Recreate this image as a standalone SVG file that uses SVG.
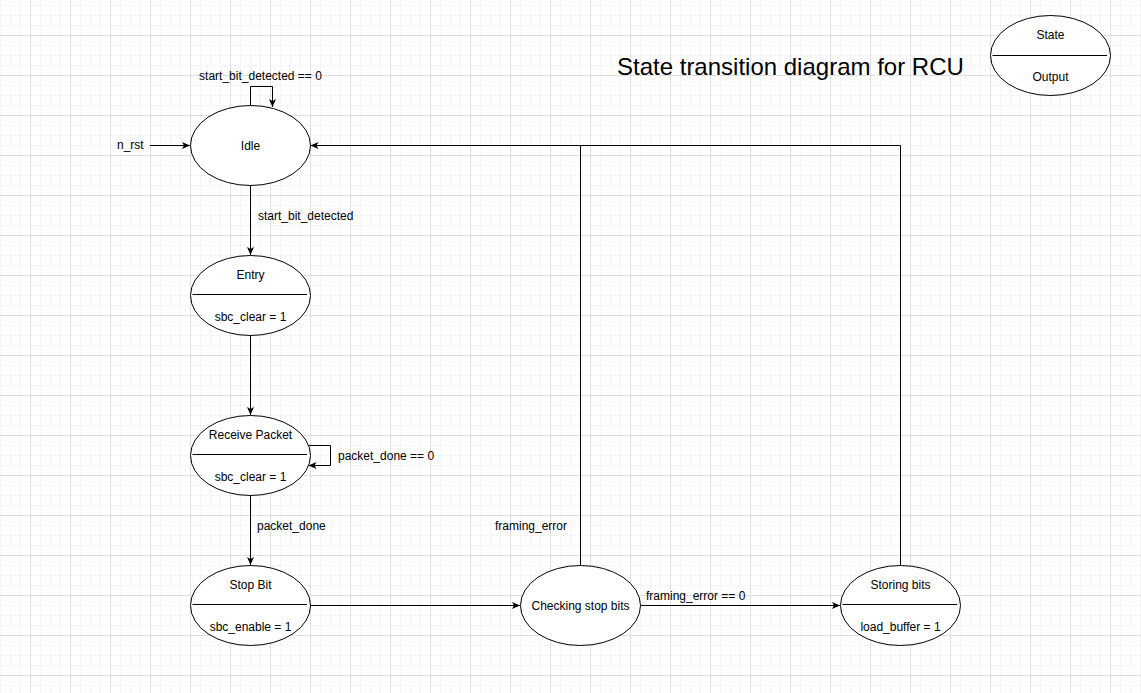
<svg xmlns="http://www.w3.org/2000/svg" width="1141" height="693" viewBox="0 0 1141 693">
<defs>
<pattern id="minor" patternUnits="userSpaceOnUse" x="0" y="5" width="10" height="10">
<path d="M0.5,0 V10 M0,0.5 H10" stroke="#f5f5f5" stroke-width="1" fill="none"/>
</pattern>
<pattern id="major" patternUnits="userSpaceOnUse" x="30" y="35" width="40" height="40">
<path d="M0.5,0 V40 M0,0.5 H40" stroke="#e0e0e0" stroke-width="1" fill="none"/>
</pattern>
<marker id="arr" viewBox="0 0 8 7" refX="8" refY="3.5" markerWidth="8" markerHeight="7" markerUnits="userSpaceOnUse" orient="auto">
<path d="M0,0 L8,3.5 L0,7 L2,3.5 Z" fill="#000"/>
</marker>
</defs>
<style>
.t{font-family:"Liberation Sans",Arial,sans-serif;font-size:12px;fill:#000}
.m{text-anchor:middle}
.st{fill:#fff;stroke:#000;stroke-width:1}
.dv{stroke:#000;stroke-width:1}
.c{fill:none;stroke:#000;stroke-width:1}
.a{marker-end:url(#arr)}
</style>
<rect width="1141" height="693" fill="#fff"/>
<rect width="1141" height="693" fill="url(#minor)"/>
<rect width="1141" height="693" fill="url(#major)"/>

<text class="t" x="617" y="75" style="font-size:24px">State transition diagram for RCU</text>

<g id="legend">
<ellipse class="st" cx="1050.5" cy="55.5" rx="60" ry="40"/>
<line class="dv" x1="992.5" y1="55.5" x2="1107" y2="55.5"/>
<text class="t m" x="1050.5" y="39">State</text>
<text class="t m" x="1050.5" y="81">Output</text>
</g>

<g id="connectors">
<path class="c a" d="M150,145.5 H190"/>
<path class="c a" d="M250.5,105 V86.5 H272.5 V107"/>
<path class="c a" d="M250.5,185 V255"/>
<path class="c a" d="M250.5,335 V415"/>
<path class="c a" d="M308.5,445.5 H330.5 V465.5 H308.5"/>
<path class="c a" d="M250.5,495 V565"/>
<path class="c a" d="M310.5,605.5 H520"/>
<path class="c a" d="M640.5,605.5 H840"/>
<path class="c a" d="M580.5,565 V145.5 H310.5"/>
<path class="c" d="M900.5,565 V145.5 H580.5"/>
<text class="t" x="117" y="149">n_rst</text>
<text class="t m" x="260.5" y="80">start_bit_detected == 0</text>
<text class="t" x="258" y="219.5">start_bit_detected</text>
<text class="t" x="338" y="459.5">packet_done == 0</text>
<text class="t" x="257" y="530">packet_done</text>
<text class="t" x="495" y="530">framing_error</text>
<text class="t" x="646" y="600">framing_error == 0</text>
</g>

<g id="idle">
<ellipse class="st" cx="250.5" cy="145.5" rx="60" ry="40"/>
<text class="t m" x="250.5" y="149.5">Idle</text>
</g>

<g id="entry">
<ellipse class="st" cx="250.5" cy="295.5" rx="60" ry="40"/>
<line class="dv" x1="192.5" y1="294.5" x2="307" y2="294.5"/>
<text class="t m" x="250.5" y="279">Entry</text>
<text class="t m" x="250.5" y="321">sbc_clear = 1</text>
</g>

<g id="receive-packet">
<ellipse class="st" cx="250.5" cy="455.5" rx="60" ry="40"/>
<line class="dv" x1="192.5" y1="454.5" x2="307" y2="454.5"/>
<text class="t m" x="250.5" y="439">Receive Packet</text>
<text class="t m" x="250.5" y="481">sbc_clear = 1</text>
</g>

<g id="stop-bit">
<ellipse class="st" cx="250.5" cy="605.5" rx="60" ry="40"/>
<line class="dv" x1="192.5" y1="604.5" x2="307" y2="604.5"/>
<text class="t m" x="250.5" y="589">Stop Bit</text>
<text class="t m" x="250.5" y="631">sbc_enable = 1</text>
</g>

<g id="checking-stop-bits">
<ellipse class="st" cx="580.5" cy="605.5" rx="60" ry="40"/>
<text class="t m" x="580.5" y="610">Checking stop bits</text>
</g>

<g id="storing-bits">
<ellipse class="st" cx="900.5" cy="605.5" rx="60" ry="40"/>
<line class="dv" x1="842.5" y1="604.5" x2="957" y2="604.5"/>
<text class="t m" x="900.5" y="589">Storing bits</text>
<text class="t m" x="900.5" y="631">load_buffer = 1</text>
</g>
</svg>
